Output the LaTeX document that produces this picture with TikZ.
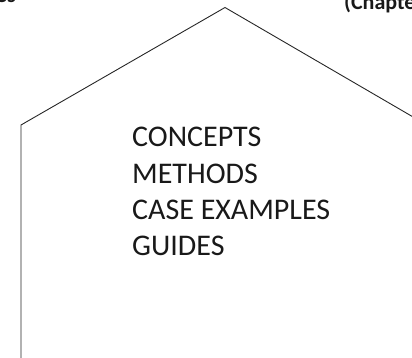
\documentclass[tikz,border=0pt]{standalone}
\usepackage{fontspec}
\setmainfont{Carlito}
\begin{document}
\begin{tikzpicture}[x=1pt,y=-1pt,
  outline/.style={draw=black!85,line width=0.9pt,line join=miter},
  mainline/.style={anchor=base west,inner sep=0pt,font=\fontsize{30}{36}\selectfont,text=black!90},
  cuttext/.style={inner sep=0pt,font=\bfseries\fontsize{22}{26}\selectfont,text=black!90}]
\useasboundingbox (0,0) rectangle (412,358);
\begin{scope}
\clip (0,0) rectangle (412,358);
\coordinate (bl) at (21,360);
\coordinate (lc) at (21,125);
\coordinate (apex) at (225,7.5);
\coordinate (rc) at (414,117.5);
\draw[outline] (bl) -- (lc) -- (apex) -- (rc);
\node[cuttext,anchor=base east] (es) at (16,3) {es};
\node[cuttext,anchor=base west] (chap) at (344,9.5) {(Chapter};
\end{scope}
\node[mainline] (l1) at (132,147) {CONCEPTS};
\node[mainline] (l2) at (132,183) {METHODS};
\node[mainline] (l3) at (132,219) {CASE EXAMPLES};
\node[mainline] (l4) at (132,255) {GUIDES};
\end{tikzpicture}
\end{document}
